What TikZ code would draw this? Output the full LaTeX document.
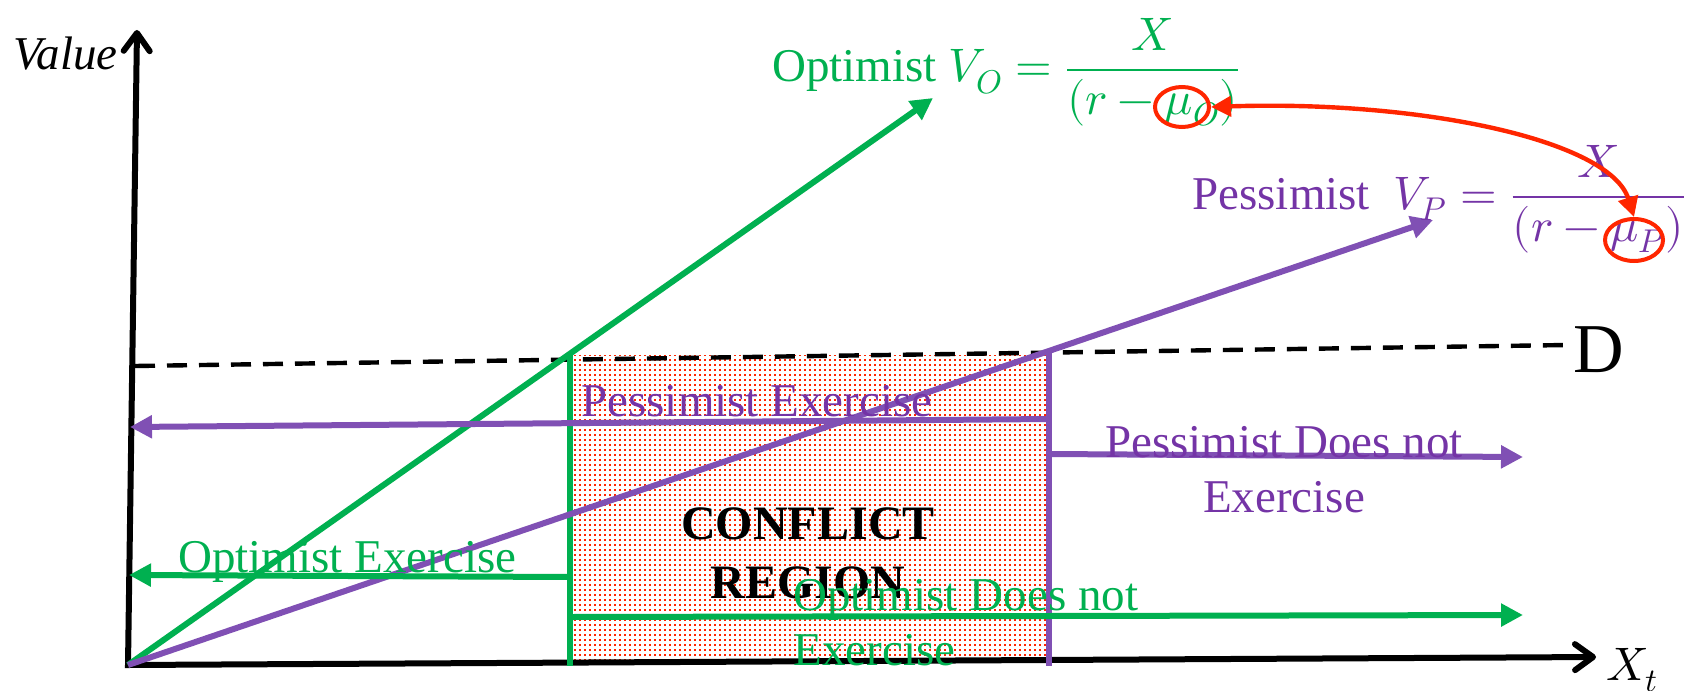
\documentclass[tikz,border=0pt]{standalone}
\usepackage{fontspec}
\usepackage{unicode-math}
\setmainfont{Liberation Serif}
\usetikzlibrary{arrows.meta,patterns,shapes.geometric}
\definecolor{ogreen}{HTML}{00B050}
\definecolor{pline}{HTML}{8050B4}
\definecolor{ptext}{HTML}{7434A6}
\definecolor{rred}{HTML}{FF2600}
\pgfdeclarepatternformonly{reddots}{\pgfqpoint{-0.7pt}{-0.7pt}}{\pgfqpoint{0.7pt}{0.7pt}}{\pgfqpoint{2.5pt}{2.5pt}}{\pgfpathrectangle{\pgfqpoint{-0.65pt}{-0.65pt}}{\pgfqpoint{1.3pt}{1.3pt}}\pgfusepath{fill}}
\tikzset{
  axisline/.style={line width=3pt, line join=miter},
  gline/.style={draw=ogreen, line width=3pt},
  pline/.style={draw=pline, line width=3pt},
  tri/.style={-{Triangle[length=11pt,width=11pt]}},
  lbl/.style={font=\fontsize{23.5}{27.5}\selectfont, inner sep=0pt},
  redring/.style={draw=rred, line width=2pt, ellipse, inner sep=0pt},
}
\begin{document}
\begin{tikzpicture}[x=0.5pt,y=-0.5pt]
\useasboundingbox (0,0) rectangle (1695,690);
% conflict region
\fill[pattern=reddots, pattern color=rred] (571,355) rectangle (1050,663);
\node[font=\fontsize{24}{29.5}\selectfont\bfseries, inner sep=0pt, align=center, anchor=base] (conf) at (808,598) {CONFLICT\\REGION};
% coordinates
\coordinate (O) at (128,665);
\coordinate (ytop) at (137,30);
\coordinate (xend) at (1596,657);
\coordinate (gtip) at (933,98);
\coordinate (ptip) at (1433,220);
\coordinate (dA) at (135,366);
\coordinate (dB) at (1567,345);
\coordinate (gvt) at (570,353);
\coordinate (gvb) at (570,666);
\coordinate (pvt) at (1049,350);
\coordinate (pvb) at (1049,666);
\coordinate (pexR) at (1049,419);
\coordinate (pexL) at (130,427);
\coordinate (pnoL) at (1049,454);
\coordinate (pnoR) at (1523,457);
\coordinate (oexR) at (570,577);
\coordinate (oexL) at (129,575);
\coordinate (onoL) at (570,617);
\coordinate (onoR) at (1523,615);
% dashed D line
\draw[line width=2.2pt, dash pattern=on 10pt off 6pt] (dA) -- (dB);
\node[font=\fontsize{35}{40}\selectfont, inner sep=0pt, anchor=base west] (D) at (1573,372) {D};
% axes
\draw[axisline, {Straight Barb[length=9pt,width=13pt,line cap=round,line join=round]}-{Straight Barb[length=9pt,width=13pt,line cap=round,line join=round]}] (ytop) -- (O) -- (xend);
\node[lbl, font=\fontsize{23.5}{28}\selectfont\itshape, anchor=base east] (val) at (118,70) {Value};
\node[lbl, anchor=base west] (xt) at (1606,680) {$X_t$};
% verticals
\draw[gline] (gvt) -- (gvb);
\draw[pline] (pvt) -- (pvb);
% diagonals
\draw[gline, tri] (O) -- (gtip);
\draw[pline, tri] (O) -- (ptip);
% horizontal arrows
\draw[pline, tri] (pexR) -- (pexL);
\draw[pline, tri] (pnoL) -- (pnoR);
\draw[gline, tri] (oexR) -- (oexL);
\draw[gline, tri] (onoL) -- (onoR);
% labels
\node[lbl, text=ptext, anchor=base west] (pexlab) at (581,416) {Pessimist Exercise};
\node[lbl, text=ptext, anchor=base, align=center] (pnolab) at (1284,512) {Pessimist Does not\\Exercise};
\node[lbl, text=ogreen, anchor=base west] (oexlab) at (178,572) {Optimist Exercise};
\node[lbl, text=ogreen, anchor=base west, align=left] (onolab) at (793,665) {Optimist Does not\\Exercise};
% formulas
\node[lbl, text=ogreen, anchor=base west] (optf) at (772,82) {Optimist $V_O=\dfrac{X}{(r-\mu_O)}$};
\node[lbl, text=ptext, anchor=base west] (pesf) at (1192,209) {Pessimist\ \ $V_P=\dfrac{X}{(r-\mu_P)}$};
% red rings and arrow
\node[redring, minimum width=27pt, minimum height=20pt] (eO) at (1182,107) {};
\node[redring, minimum width=29pt, minimum height=21pt] (eP) at (1634,240) {};
\draw[draw=rred, line width=2.2pt, {Triangle[length=10pt,width=10pt]}-{Triangle[length=10pt,width=10pt]}] (eO.east) .. controls (1420,100) and (1610,140) .. (eP.north);
\end{tikzpicture}
\end{document}
